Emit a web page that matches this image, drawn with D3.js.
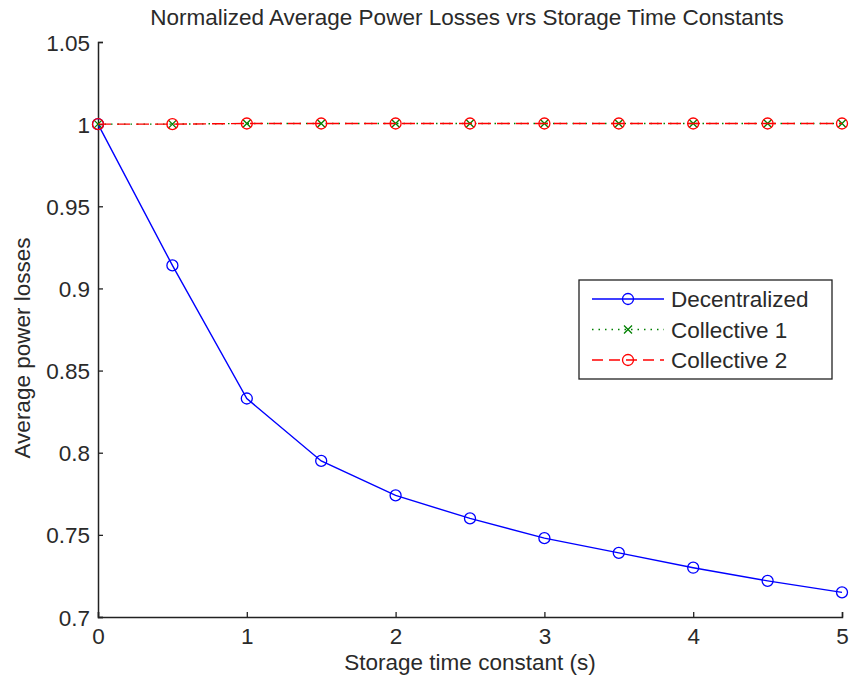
<!DOCTYPE html>
<html>
<head>
<meta charset="utf-8">
<script src="https://cdn.jsdelivr.net/npm/d3@7"></script>
<style>
  body { margin: 0; background: #fff; }
  text { font-family: "Liberation Sans", Arial, sans-serif; fill: #2a2a2a; }
</style>
</head>
<body>
<svg id="chart" width="849" height="686"></svg>
<script>
var timeConst = [0, 0.5, 1, 1.5, 2, 2.5, 3, 3.5, 4, 4.5, 5];
var decentralized = [1, 0.914, 0.833, 0.795, 0.774, 0.760, 0.748, 0.739, 0.730, 0.722, 0.715];
var collective1 = [1, 1, 1.0004, 1.0004, 1.0004, 1.0004, 1.0004, 1.0004, 1.0004, 1.0004, 1.0004];
var collective2 = [1, 1, 1.0004, 1.0004, 1.0004, 1.0004, 1.0004, 1.0004, 1.0004, 1.0004, 1.0004];
var xTicks = [0, 1, 2, 3, 4, 5];
var yTicks = [0.7, 0.75, 0.8, 0.85, 0.9, 0.95, 1, 1.05];
var seriesNames = ["Decentralized", "Collective 1", "Collective 2"];

var svg = d3.select("#chart");
var padding = { top: 42, right: 7, bottom: 69, left: 98 };
var width = +svg.attr("width");
var height = +svg.attr("height");
var fontSize = "22.5px";

var xScale = d3.scaleLinear()
  .domain([0, 5])
  .range([padding.left, width - padding.right]);

var yScale = d3.scaleLinear()
  .domain([0.7, 1.05])
  .range([height - padding.bottom, padding.top]);

// axes, matlab style: ticks inside
var xAxis = d3.axisBottom(xScale)
  .tickValues(xTicks)
  .tickSize(-5)
  .tickPadding(11)
  .tickFormat(d3.format("d"));

var yAxis = d3.axisLeft(yScale)
  .tickValues(yTicks)
  .tickSize(-5)
  .tickPadding(8)
  .tickFormat(d => String(+d.toFixed(2)));

var gx = svg.append("g")
  .attr("transform", "translate(0," + (height - padding.bottom) + ")")
  .call(xAxis);
var gy = svg.append("g")
  .attr("transform", "translate(" + padding.left + ",0)")
  .call(yAxis);

[gx, gy].forEach(g => {
  g.select(".domain").attr("stroke", "#222").attr("stroke-width", 1.5);
  g.selectAll(".tick line").attr("stroke", "#222").attr("stroke-width", 1.3);
  g.selectAll(".tick text")
    .style("font-size", fontSize)
    .style("font-family", "'Liberation Sans', Arial, sans-serif")
    .attr("fill", "#2a2a2a");
});
gy.selectAll(".tick text").attr("dy", "0.36em");

// title and labels
svg.append("text")
  .attr("x", 467)
  .attr("y", 25)
  .style("font-size", fontSize)
  .style("text-anchor", "middle")
  .text("Normalized Average Power Losses vrs Storage Time Constants");

svg.append("text")
  .attr("x", 470)
  .attr("y", 670)
  .style("font-size", fontSize)
  .style("text-anchor", "middle")
  .text("Storage time constant (s)");

svg.append("text")
  .attr("transform", "rotate(-90)")
  .attr("x", -348)
  .attr("y", 30)
  .style("font-size", fontSize)
  .style("text-anchor", "middle")
  .text("Average power losses");

var line = d3.line()
  .x((d, i) => xScale(timeConst[i]))
  .y(d => yScale(d));

var series = [
  { name: seriesNames[0], values: decentralized, color: "#0000ff", dash: null, legendDash: null, marker: "o" },
  { name: seriesNames[1], values: collective1, color: "#008000", dash: "1.5,5", legendDash: "1.5,5", marker: "x" },
  { name: seriesNames[2], values: collective2, color: "#ff0000", dash: "13,6", legendDash: "11,6", marker: "o" }
];

function drawMarker(g, type, x, y, color) {
  if (type === "o") {
    g.append("circle")
      .attr("cx", x).attr("cy", y).attr("r", 5.5)
      .attr("fill", "none").attr("stroke", color).attr("stroke-width", 1.3);
  } else {
    var s = 4;
    g.append("path")
      .attr("d", "M" + (x - s) + "," + (y - s) + "L" + (x + s) + "," + (y + s) +
        "M" + (x - s) + "," + (y + s) + "L" + (x + s) + "," + (y - s))
      .attr("stroke", color).attr("stroke-width", 1.3);
  }
}

var plot = svg.append("g");
series.forEach(s => {
  plot.append("path")
    .datum(s.values)
    .attr("d", line)
    .attr("fill", "none")
    .attr("stroke", s.color)
    .attr("stroke-width", 1.4)
    .attr("stroke-dasharray", s.dash);
  var mg = plot.append("g");
  s.values.forEach((v, i) => drawMarker(mg, s.marker, xScale(timeConst[i]), yScale(v), s.color));
});

// legend
var legend = svg.append("g").attr("transform", "translate(579,280)");
legend.append("rect")
  .attr("width", 253).attr("height", 99)
  .attr("fill", "#fff").attr("stroke", "#222").attr("stroke-width", 1.3);

series.forEach((s, i) => {
  var y = 19 + i * 30.5;
  legend.append("line")
    .attr("x1", 13).attr("x2", 85).attr("y1", y).attr("y2", y)
    .attr("stroke", s.color).attr("stroke-width", 1.4)
    .attr("stroke-dasharray", s.legendDash);
  drawMarker(legend, s.marker, 49, y, s.color);
  legend.append("text")
    .attr("x", 92).attr("y", y)
    .attr("dy", "0.36em")
    .style("font-size", fontSize)
    .text(s.name);
});
</script>
</body>
</html>
